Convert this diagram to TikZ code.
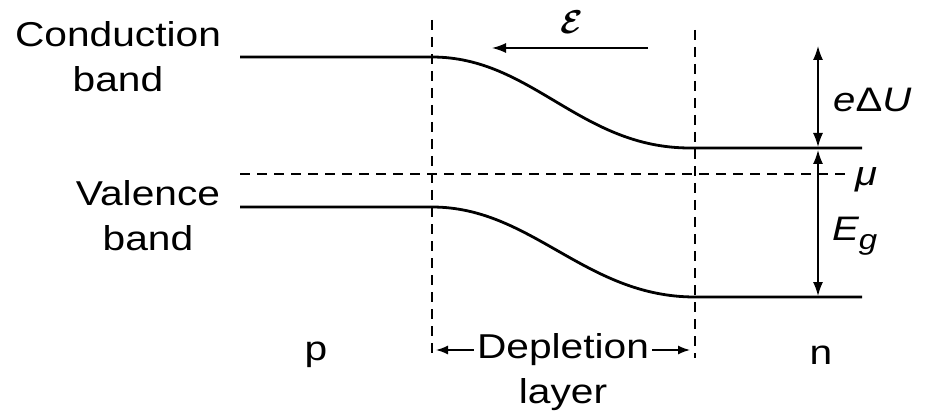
\documentclass[tikz,border=0pt]{standalone}
\usepackage{fontspec}
\setmainfont{Liberation Sans}[FakeStretch=1.18]
\usetikzlibrary{arrows.meta}
\begin{document}
\begin{tikzpicture}[x=1pt,y=-1pt,
  band/.style={line width=2.8pt},
  dashline/.style={line width=1.5pt, dash pattern=on 10pt off 7pt},
  arr/.style={line width=1.5pt, -{Latex[length=14pt,width=10pt]}},
  darr/.style={line width=1.5pt, {Latex[length=14pt,width=10pt]}-{Latex[length=14pt,width=10pt]}},
  lbl/.style={font=\fontsize{34.5}{45}\selectfont, inner sep=0pt, align=center},
  mlbl/.style={font=\fontsize{34}{38}\selectfont\itshape, inner sep=0pt}]
\useasboundingbox (0,0) rectangle (926,414);
% bands
\coordinate (cb0) at (240,57); \coordinate (cb1) at (432,57);
\coordinate (cb2) at (690,148); \coordinate (cb3) at (862,148);
\coordinate (vb0) at (240,207); \coordinate (vb1) at (432,207);
\coordinate (vb2) at (695,297); \coordinate (vb3) at (862,297);
\draw[band] (cb0) -- (cb1) .. controls +(100,0) and +(-110,0) .. (cb2) -- (cb3);
\draw[band] (vb0) -- (vb1) .. controls +(100,0) and +(-110,0) .. (vb2) -- (vb3);
% dashed lines
\coordinate (d1t) at (432,20); \coordinate (d1b) at (432,358);
\coordinate (d2t) at (695,30); \coordinate (d2b) at (695,358);
\draw[dashline] (d1t) -- (d1b);
\draw[dashline] (d2t) -- (d2b);
\coordinate (m0) at (240,174); \coordinate (m1) at (848,174);
\draw[dashline] (m0) -- (m1);
\node[mlbl, anchor=west] (mu) at (855,180) {μ};
% field arrow
\coordinate (f0) at (648,48); \coordinate (f1) at (492,48);
\draw[arr] (f0) -- (f1);
\node[inner sep=0pt] (E) at (572,22) {\scalebox{3.3}{\boldmath$\mathcal{E}$}};
% energy arrows
\coordinate (a0) at (818,46); \coordinate (a1) at (818,147);
\coordinate (a2) at (818,150); \coordinate (a3) at (818,296);
\draw[darr] (a0) -- (a1);
\draw[darr] (a2) -- (a3);
\node[mlbl, anchor=west] (dU) at (833,100) {e{\upshape Δ}U};
\node[mlbl, anchor=west] (Eg) at (832,236) {E\raisebox{-9pt}{\fontsize{28}{30}\selectfont g}};
% labels
\node[lbl] (cbl) at (118,57) {Conduction\\band};
\node[lbl] (vbl) at (148,216) {Valence\\band};
\node[lbl] (p) at (316,355) {p};
\node[lbl] (n) at (821,355) {n};
\node[lbl] (dep) at (563,372) {Depletion\\layer};
\coordinate (dl) at (436,350); \coordinate (dr) at (690,350);
\draw[line width=1.5pt, -{Latex[length=12pt,width=9pt]}] (dep.west |- 0,350) ++(-3,0) -- (dl);
\draw[line width=1.5pt, -{Latex[length=12pt,width=9pt]}] (dep.east |- 0,350) ++(3,0) -- (dr);
\end{tikzpicture}
\end{document}
